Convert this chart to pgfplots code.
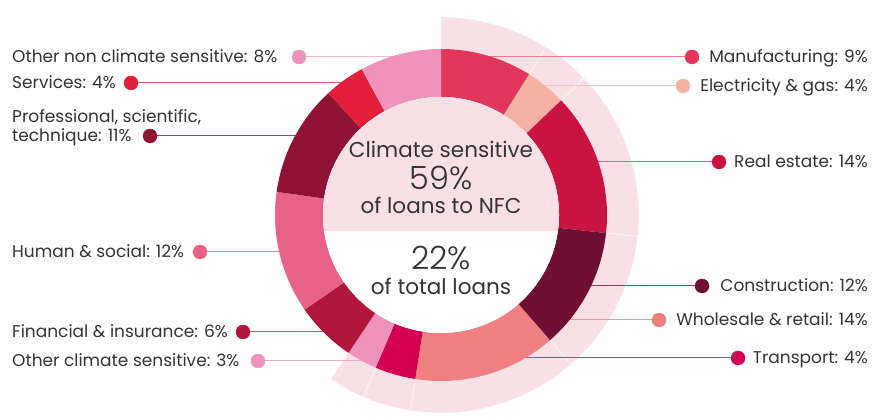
\documentclass[border=0pt]{standalone}
\usepackage{pgfplots}
\pgfplotsset{compat=1.18}
\usepackage{pgfplotstable}
\usepackage{fontspec}
\setmainfont{Poppins}
\IfFontExistsTF{Poppins Light}
  {\newfontfamily\lightfont{Poppins Light}}
  {\newfontfamily\lightfont{Poppins}}

\definecolor{cManu}{HTML}{E2365A}
\definecolor{cElec}{HTML}{F4B2A2}
\definecolor{cReal}{HTML}{C91441}
\definecolor{cCons}{HTML}{6E0F33}
\definecolor{cWhol}{HTML}{EF7F80}
\definecolor{cTran}{HTML}{D30054}
\definecolor{cOcs}{HTML}{EF93BC}
\definecolor{cFin}{HTML}{B0163C}
\definecolor{cHum}{HTML}{E96387}
\definecolor{cProf}{HTML}{8F1434}
\definecolor{cServ}{HTML}{E31E38}
\definecolor{cOnc}{HTML}{EF92BC}
\definecolor{bgpink}{HTML}{F9E0E6}
\definecolor{ctext}{HTML}{333333}

% sector shares (they add up to 101, as printed)
\pgfplotstableread[col sep=comma]{
sector,value,col,cs
Manufacturing,9,cManu,1
Electricity and gas,4,cElec,1
Real estate,14,cReal,1
Construction,12,cCons,1
Wholesale and retail,14,cWhol,1
Transport,4,cTran,1
Other climate sensitive,3,cOcs,1
Financial and insurance,6,cFin,0
Human and social,12,cHum,0
Professional,11,cProf,0
Services,4,cServ,0
Other non climate sensitive,8,cOnc,0
}\sectors

\def\cx{441}
\def\cy{193}

% #1 outer radius, #2 inner radius, #3 = 1: climate sensitive background pieces only
\newcommand\drawring[3]{%
  \def\cum{0}%
  \pgfplotsforeachungrouped \i in {0,...,11}{%
    \pgfplotstablegetelem{\i}{value}\of\sectors \let\secval\pgfplotsretval
    \pgfplotstablegetelem{\i}{col}\of\sectors \let\seccol\pgfplotsretval
    \pgfplotstablegetelem{\i}{cs}\of\sectors \let\seccs\pgfplotsretval
    \pgfmathsetmacro\aS{90-360/\total*\cum}%
    \pgfmathsetmacro\aE{90-360/\total*(\cum+\secval)}%
    \pgfmathsetmacro\cum{\cum+\secval}%
    \ifnum#3=1
      \ifnum\seccs=1
        \edef\temp{\noexpand\filldraw[fill=bgpink,draw=white,line width=0.35pt] (axis cs:{\cx+#1*cos(\aS)},{\cy+#1*sin(\aS)}) arc[start angle=\aS,end angle=\aE,radius=#1pt] -- (axis cs:{\cx+#2*cos(\aE)},{\cy+#2*sin(\aE)}) arc[start angle=\aE,end angle=\aS,radius=#2pt] -- cycle;}\temp
      \fi
    \else
      \edef\temp{\noexpand\fill[\seccol] (axis cs:{\cx+#1*cos(\aS)},{\cy+#1*sin(\aS)}) arc[start angle=\aS,end angle=\aE,radius=#1pt] -- (axis cs:{\cx+#2*cos(\aE)},{\cy+#2*sin(\aE)}) arc[start angle=\aE,end angle=\aS,radius=#2pt] -- cycle;}\temp
    \fi
  }%
}

\newcommand\labfont{\fontsize{17}{20}\selectfont}
\newcommand\midfont{\fontsize{21.5}{25}\selectfont}
\newcommand\bigfont{\lightfont\fontsize{32}{36}\selectfont}

\begin{document}
\begin{tikzpicture}
\begin{axis}[
  width=872pt, height=408pt, scale only axis,
  xmin=0, xmax=872, ymin=0, ymax=408,
  hide axis, clip=false]

\path (axis cs:0,0) rectangle (axis cs:872,408);

% total of the shares
\def\total{0}
\pgfplotsforeachungrouped \i in {0,...,11}{%
  \pgfplotstablegetelem{\i}{value}\of\sectors
  \pgfmathsetmacro\total{\total+\pgfplotsretval}}

% background band behind the climate sensitive sectors
\drawring{198}{150}{1}

% leader lines
\draw[cManu!65!white, line width=1pt] (axis cs:441,351) -- (axis cs:692,351);
\draw[cElec!75!white, line width=1pt] (axis cs:525,322) -- (axis cs:683,322);
\draw[cReal!65!white, line width=1pt] (axis cs:580,246) -- (axis cs:719,246);
\draw[cCons!80!white, line width=1pt] (axis cs:560,122) -- (axis cs:702,122);
\draw[cWhol!80!white, line width=1pt] (axis cs:520,88) -- (axis cs:659,88);
\draw[cTran!80!white, line width=1pt] (axis cs:400,50) -- (axis cs:738,50);
\draw[cOnc!65!white, line width=1pt] (axis cs:299,351) -- (axis cs:441,351);
\draw[cServ!75!white, line width=1pt] (axis cs:131,325) -- (axis cs:360,325);
\draw[cProf!80!white, line width=1pt] (axis cs:150,272) -- (axis cs:320,272);
\draw[cHum!80!white, line width=1pt] (axis cs:200,156) -- (axis cs:320,156);
\draw[cFin!75!white, line width=1pt] (axis cs:243,76) -- (axis cs:330,76);
\draw[cOcs!80!white, line width=1pt] (axis cs:258,47) -- (axis cs:370,47);

% donut
\drawring{166}{118}{0}

% centre
\fill[white] (axis cs:\cx,\cy) circle[radius=118pt];
\begin{scope}
  \clip (axis cs:\cx,\cy) circle[radius=118pt];
  \fill[bgpink] (axis cs:300,177) rectangle (axis cs:600,330);
\end{scope}

\node[anchor=base, text=ctext, font=\midfont] at (axis cs:441,250) {Climate sensitive};
\node[anchor=base, text=ctext, font=\bigfont] at (axis cs:441,218) {59\%};
\node[anchor=base, text=ctext, font=\midfont] at (axis cs:441,194) {of loans to NFC};
\node[anchor=base, text=ctext, font=\bigfont] at (axis cs:441,138) {22\%};
\node[anchor=base, text=ctext, font=\midfont] at (axis cs:441,113) {of total loans};

% dots
\addplot[only marks, mark=*, mark size=7pt, color=cManu] coordinates {(692,351)};
\addplot[only marks, mark=*, mark size=7pt, color=cElec] coordinates {(683,322)};
\addplot[only marks, mark=*, mark size=7pt, color=cReal] coordinates {(719,246)};
\addplot[only marks, mark=*, mark size=7pt, color=cCons] coordinates {(702,122)};
\addplot[only marks, mark=*, mark size=7pt, color=cWhol] coordinates {(659,88)};
\addplot[only marks, mark=*, mark size=7pt, color=cTran] coordinates {(738,50)};
\addplot[only marks, mark=*, mark size=7pt, color=cOnc] coordinates {(299,351)};
\addplot[only marks, mark=*, mark size=7pt, color=cServ] coordinates {(131,325)};
\addplot[only marks, mark=*, mark size=7pt, color=cProf] coordinates {(150,272)};
\addplot[only marks, mark=*, mark size=7pt, color=cHum] coordinates {(200,156)};
\addplot[only marks, mark=*, mark size=7pt, color=cFin] coordinates {(243,76)};
\addplot[only marks, mark=*, mark size=7pt, color=cOcs] coordinates {(258,47)};

% labels
\node[anchor=base east, text=ctext, font=\labfont, inner sep=0pt] at (axis cs:868,345.5) {Manufacturing: 9\%};
\node[anchor=base east, text=ctext, font=\labfont, inner sep=0pt] at (axis cs:868,316.5) {Electricity \& gas: 4\%};
\node[anchor=base east, text=ctext, font=\labfont, inner sep=0pt] at (axis cs:868,240.5) {Real estate: 14\%};
\node[anchor=base east, text=ctext, font=\labfont, inner sep=0pt] at (axis cs:868,116.5) {Construction: 12\%};
\node[anchor=base east, text=ctext, font=\labfont, inner sep=0pt] at (axis cs:868,82.5) {Wholesale \& retail: 14\%};
\node[anchor=base east, text=ctext, font=\labfont, inner sep=0pt] at (axis cs:868,44.5) {Transport: 4\%};
\node[anchor=base west, text=ctext, font=\labfont, inner sep=0pt] at (axis cs:12,345.5) {Other non climate sensitive: 8\%};
\node[anchor=base west, text=ctext, font=\labfont, inner sep=0pt] at (axis cs:12,319.5) {Services: 4\%};
\node[anchor=base west, text=ctext, font=\labfont, inner sep=0pt] at (axis cs:12,285.5) {Professional, scientific,};
\node[anchor=base west, text=ctext, font=\labfont, inner sep=0pt] at (axis cs:12,266.5) {technique: 11\%};
\node[anchor=base west, text=ctext, font=\labfont, inner sep=0pt] at (axis cs:12,150.5) {Human \& social: 12\%};
\node[anchor=base west, text=ctext, font=\labfont, inner sep=0pt] at (axis cs:12,70.5) {Financial \& insurance: 6\%};
\node[anchor=base west, text=ctext, font=\labfont, inner sep=0pt] at (axis cs:12,41.5) {Other climate sensitive: 3\%};
\end{axis}
\end{tikzpicture}
\end{document}
